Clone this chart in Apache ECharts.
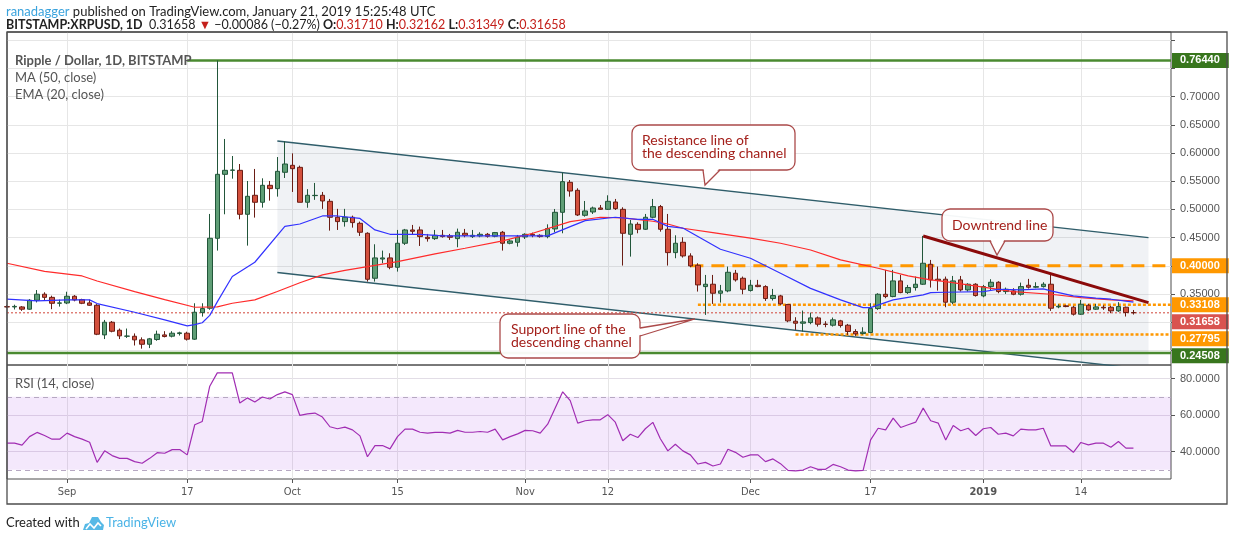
<!DOCTYPE html>
<html lang="en">
<head>
<meta charset="UTF-8">
<title>Ripple / Dollar, 1D, BITSTAMP</title>
<script src="https://cdn.jsdelivr.net/npm/echarts@6/dist/echarts.min.js"></script>
<style>
  html, body { margin: 0; padding: 0; background: #fff; }
  #chart { width: 1234px; height: 541px; }
</style>
</head>
<body>
<div id="chart"></div>
<script>
// daily candles, index 0 = 2018-08-24 ... index 150 = 2019-01-21
const opens = [0.3275,0.3270,0.3270,0.3230,0.3389,0.3496,0.3440,0.3335,0.3340,0.3460,
  0.3400,0.3342,0.3300,0.2774,0.2999,0.2857,0.2751,0.2750,0.2686,0.2608,
  0.2692,0.2774,0.2751,0.2798,0.2804,0.2698,0.3170,0.3247,0.4488,0.5623,
  0.5694,0.5694,0.4914,0.5251,0.5127,0.5428,0.5369,0.5659,0.5783,0.5747,
  0.5127,0.5245,0.5251,0.5144,0.4861,0.4784,0.4861,0.4754,0.4577,0.3779,
  0.4120,0.4140,0.3974,0.4400,0.4636,0.4636,0.4506,0.4482,0.4541,0.4530,
  0.4482,0.4577,0.4518,0.4530,0.4559,0.4524,0.4595,0.4400,0.4417,0.4512,
  0.4559,0.4541,0.4518,0.4654,0.4949,0.5481,0.5339,0.4896,0.4955,0.5026,
  0.5002,0.5132,0.5002,0.4559,0.4736,0.4648,0.4861,0.5050,0.4648,0.4234,
  0.4417,0.4175,0.4010,0.3631,0.3673,0.3513,0.3555,0.3868,0.3779,0.3561,
  0.3655,0.3631,0.3419,0.3466,0.3312,0.3017,0.2981,0.2993,0.3076,0.2966,
  0.2946,0.3023,0.2946,0.2834,0.2798,0.2816,0.3241,0.3495,0.3454,0.3732,
  0.3525,0.3614,0.3673,0.4027,0.3762,0.3762,0.3354,0.3750,0.3572,0.3673,
  0.3466,0.3631,0.3708,0.3543,0.3555,0.3495,0.3655,0.3620,0.3631,0.3673,
  0.3271,0.3289,0.3265,0.3141,0.3300,0.3230,0.3265,0.3265,0.3200,0.3265,
  0.31710];
const highs = [0.3300,0.3310,0.3285,0.3410,0.3570,0.3530,0.3470,0.3400,0.3540,0.3480,
  0.3415,0.3400,0.3320,0.3040,0.3020,0.2887,0.2887,0.2800,0.2730,0.2720,
  0.2850,0.2840,0.2840,0.2830,0.2830,0.3335,0.3335,0.4920,0.7644,0.6250,
  0.5948,0.5806,0.5505,0.5718,0.5552,0.5505,0.5930,0.6208,0.5995,0.5777,
  0.5360,0.5470,0.5310,0.5186,0.5010,0.5010,0.4890,0.4784,0.4595,0.4382,
  0.4270,0.4222,0.4636,0.4654,0.4725,0.4695,0.4565,0.4636,0.4636,0.4565,
  0.4660,0.4654,0.4636,0.4595,0.4583,0.4600,0.4618,0.4470,0.4547,0.4577,
  0.4589,0.4559,0.4736,0.5008,0.5652,0.5522,0.5375,0.5150,0.5050,0.5079,
  0.5251,0.5186,0.5038,0.4813,0.4772,0.4920,0.5186,0.5079,0.4920,0.4541,
  0.4506,0.4222,0.4045,0.3838,0.3838,0.3661,0.3986,0.3927,0.3809,0.3750,
  0.3750,0.3655,0.3590,0.3484,0.3324,0.3088,0.3206,0.3170,0.3100,0.3017,
  0.3082,0.3041,0.2969,0.2875,0.2910,0.3336,0.3513,0.3927,0.3927,0.3838,
  0.3661,0.3809,0.4530,0.4104,0.3986,0.3809,0.3820,0.3820,0.3691,0.3691,
  0.3661,0.3762,0.3726,0.3614,0.3602,0.3702,0.3768,0.3708,0.3708,0.3838,
  0.3318,0.3306,0.3289,0.3395,0.3324,0.3324,0.3300,0.3289,0.3354,0.3277,
  0.32162];
const lows = [0.3250,0.3225,0.3200,0.3220,0.3350,0.3390,0.3230,0.3276,0.3320,0.3370,
  0.3320,0.3290,0.2770,0.2700,0.2820,0.2700,0.2720,0.2586,0.2530,0.2540,
  0.2670,0.2730,0.2730,0.2763,0.2674,0.2686,0.3099,0.3220,0.4270,0.4914,
  0.5546,0.4825,0.4358,0.4855,0.5032,0.5156,0.5227,0.5558,0.5310,0.5127,
  0.5030,0.5170,0.5010,0.4624,0.4636,0.4695,0.4677,0.4530,0.3720,0.3720,
  0.4045,0.3939,0.3897,0.4370,0.4547,0.4352,0.4429,0.4459,0.4500,0.4459,
  0.4329,0.4506,0.4494,0.4506,0.4500,0.4506,0.4270,0.4382,0.4340,0.4476,
  0.4506,0.4500,0.4488,0.4595,0.4577,0.5227,0.4884,0.4872,0.4920,0.4990,
  0.4990,0.4990,0.4004,0.4163,0.4577,0.4636,0.4843,0.4606,0.4004,0.4134,
  0.4146,0.3974,0.3543,0.3129,0.3324,0.3348,0.3531,0.3720,0.3495,0.3543,
  0.3620,0.3377,0.3383,0.3306,0.2999,0.2863,0.2834,0.2963,0.2922,0.2910,
  0.2922,0.2904,0.2774,0.2757,0.2780,0.2804,0.3218,0.3425,0.3442,0.3513,
  0.3501,0.3560,0.3661,0.3614,0.3560,0.3265,0.3318,0.3543,0.3543,0.3454,
  0.3442,0.3572,0.3513,0.3501,0.3478,0.3472,0.3596,0.3602,0.3614,0.3200,
  0.3247,0.3265,0.3117,0.3129,0.3200,0.3218,0.3218,0.3159,0.3182,0.3100,
  0.31349];
const closes = [0.3270,0.3280,0.3230,0.3389,0.3496,0.3440,0.3335,0.3342,0.3460,0.3394,
  0.3335,0.3300,0.2786,0.2999,0.2839,0.2757,0.2753,0.2686,0.2608,0.2704,
  0.2786,0.2745,0.2804,0.2810,0.2698,0.3176,0.3241,0.4488,0.5623,0.5694,
  0.5700,0.4914,0.5233,0.5127,0.5428,0.5369,0.5676,0.5806,0.5723,0.5127,
  0.5251,0.5250,0.5150,0.4861,0.4784,0.4861,0.4766,0.4595,0.3761,0.4140,
  0.4140,0.3974,0.4400,0.4636,0.4612,0.4518,0.4482,0.4541,0.4518,0.4506,
  0.4595,0.4541,0.4541,0.4559,0.4524,0.4589,0.4400,0.4441,0.4512,0.4559,
  0.4541,0.4518,0.4660,0.4949,0.5493,0.5327,0.4902,0.4973,0.5026,0.5002,
  0.5144,0.5014,0.4577,0.4742,0.4648,0.4861,0.5050,0.4648,0.4234,0.4400,
  0.4175,0.3998,0.3661,0.3673,0.3513,0.3555,0.3885,0.3750,0.3584,0.3655,
  0.3631,0.3419,0.3472,0.3324,0.3023,0.2981,0.3005,0.3076,0.2963,0.2960,
  0.3041,0.2940,0.2834,0.2792,0.2822,0.3241,0.3495,0.3454,0.3732,0.3525,
  0.3614,0.3673,0.4045,0.3750,0.3738,0.3354,0.3732,0.3572,0.3673,0.3472,
  0.3631,0.3708,0.3543,0.3584,0.3495,0.3631,0.3620,0.3631,0.3673,0.3247,
  0.3283,0.3277,0.3141,0.3318,0.3218,0.3271,0.3253,0.3200,0.3277,0.3171,
  0.31658];

// indicator readings as [dayIndex, value]
const ma50 = [[0,0.4045],[5,0.3900],[10,0.3820],[12,0.3730],[17,0.3543],[21,0.3400],[25,0.3265],
  [28,0.3270],[30,0.3336],[33,0.3395],[36,0.3543],[39,0.3700],[42,0.3840],[45,0.3920],[48,0.3986],
  [52,0.4075],[57,0.4211],[61,0.4311],[66,0.4441],[70,0.4577],[75,0.4784],[79,0.4861],[82,0.4850],
  [86,0.4790],[88,0.4742],[90,0.4666],[94,0.4589],[99,0.4490],[103,0.4400],[107,0.4280],[111,0.4104],
  [116,0.3956],[120,0.3821],[123,0.3750],[125,0.3720],[130,0.3620],[134,0.3543],[139,0.3495],
  [143,0.3436],[147,0.3395],[150,0.3377]];
const ema20 = [[0,0.3407],[4,0.3377],[8,0.3395],[11,0.3395],[12,0.3330],[17,0.3176],[21,0.3041],
  [24,0.2934],[25,0.2955],[26,0.2990],[27,0.3120],[28,0.3360],[30,0.3809],[33,0.4063],[37,0.4700],
  [39,0.4742],[42,0.4884],[44,0.4884],[47,0.4840],[49,0.4636],[51,0.4559],[55,0.4559],[58,0.4530],
  [72,0.4530],[75,0.4695],[77,0.4801],[81,0.4861],[84,0.4825],[86,0.4825],[88,0.4700],[90,0.4670],
  [92,0.4520],[95,0.4293],[99,0.4134],[103,0.3868],[107,0.3600],[111,0.3395],[114,0.3259],
  [115,0.3259],[118,0.3395],[122,0.3484],[123,0.3525],[125,0.3531],[130,0.3543],[132,0.3584],
  [135,0.3572],[138,0.3590],[139,0.3555],[142,0.3466],[145,0.3425],[147,0.3407],[150,0.3354]];
const rsi = [44.6,44.6,43.5,48.2,50.5,48.8,46.8,46.8,50.1,48.2,
  46.8,45.1,34.1,40.4,37.8,36.3,36.3,34.5,33.6,36.3,
  39.4,39.1,41.1,41.1,38.2,54.7,56.5,75.8,83.1,83.1,
  83.1,66.6,69.4,67.1,69.9,68.8,71.2,72.7,71.2,59.8,
  60.6,61.1,58.9,53.6,52.5,53.4,51.9,48.6,37.2,43.3,
  43.3,41.5,48.2,52.3,52.3,50.6,50.1,50.5,50.5,50.1,
  51.6,50.6,50.6,51.0,50.6,52.3,46.4,48.2,49.7,51.6,
  51.4,50.1,55.0,63.8,72.7,67.9,55.6,56.9,57.4,57.4,
  60.2,56.1,45.9,49.5,47.7,52.5,56.0,47.0,40.4,44.0,
  40.4,38.2,33.2,34.1,32.1,33.2,41.3,39.6,36.9,38.2,
  38.2,34.5,36.0,33.4,29.7,29.4,29.9,31.7,30.3,30.3,
  33.0,31.7,29.9,29.4,29.7,46.4,52.8,51.9,58.3,53.2,
  54.7,56.1,63.8,56.9,55.6,46.4,54.3,51.4,52.8,48.8,
  52.5,53.2,49.5,50.1,48.6,52.3,51.9,51.9,52.8,43.1,
  43.1,43.1,39.6,45.0,43.7,44.6,44.6,42.4,45.5,41.9,
  41.9];

// drawings
const channelUpper = [[36, 0.6214], [152, 0.4500]];
const channelLower = [[36, 0.3880], [152, 0.2157]];
const downtrend = [[122, 0.4529], [152, 0.3346]];
const levelValues = [0.7644, 0.40, 0.33108, 0.31658, 0.27795, 0.24508];
const levelTexts = ['0.76440', '0.40000', '0.33108', '0.31658', '0.27795', '0.24508'];
const levelStart = [24, 91, 92, 0, 105, 0];

// axis ticks
const tickDates = ['2018-09-01','2018-09-17','2018-10-01','2018-10-15','2018-11-01',
  '2018-11-12','2018-12-01','2018-12-17','2019-01-01','2019-01-14'];
const tickTexts = ['Sep','17','Oct','15','Nov','12','Dec','17','2019','14'];
const priceGrid = [0.25,0.30,0.35,0.40,0.45,0.50,0.55,0.60,0.65,0.70,0.75,0.80];
const priceTicks = [0.35,0.45,0.50,0.55,0.60,0.65,0.70];
const rsiTicks = [40, 60, 80];

const nDays = 156;
const dates = [];
for (let i = 0; i < nDays; i++) {
  dates.push(new Date(Date.UTC(2018, 7, 24 + i)).toISOString().slice(0, 10));
}
const lastIdx = nDays - 1;

const PMIN = 0.2240, PMAX = 0.8148;
const RMIN = 25, RMAX = 87.4;
const mainH = 333;

const levelStyle = [
  { color: '#4a8a30', bg: '#38761d', width: 2.5, type: 'solid' },
  { color: '#ff9800', bg: '#ff9800', width: 3, type: [13, 8] },
  { color: '#ff9800', bg: '#ff9800', width: 2.5, type: [3, 2] },
  { color: '#d0453a', bg: '#d9534f', width: 1, type: [2, 2] },
  { color: '#ff9800', bg: '#ff9800', width: 2.5, type: [3, 2] },
  { color: '#4a8a30', bg: '#38761d', width: 2.5, type: 'solid' }
];

// push price labels apart so boxes don't overlap (like the price scale does)
const gap = 17 * (PMAX - PMIN) / mainH;
const labelPos = [];
levelValues.forEach((v, i) => {
  labelPos.push(i === 0 ? v : Math.min(v, labelPos[i - 1] - gap));
});
const labelRich = {};
levelStyle.forEach((s, i) => {
  labelRich['s' + i] = { backgroundColor: s.bg, color: '#fff', fontWeight: 'bold',
    fontSize: 11, lineHeight: 12, padding: [2, 9, 2, 8], fontFamily: 'Liberation Sans, Arial' };
});

const isTick = (i, v) => tickDates.indexOf(v) >= 0;
const gridColor = '#e6e6e6';

const levelSeries = levelValues.map((v, i) => ({
  type: 'line', xAxisIndex: 0, yAxisIndex: 0, symbol: 'none', silent: true, z: 4,
  data: [[levelStart[i], v], [lastIdx, v]],
  lineStyle: { color: levelStyle[i].color, width: levelStyle[i].width, type: levelStyle[i].type }
}));

const chart = echarts.init(document.getElementById('chart'));

function callout(rect, tail, text, tx, ty) {
  return [
    { type: 'rect', z: 100, shape: { x: rect[0], y: rect[1], width: rect[2], height: rect[3], r: 8 },
      style: { fill: 'rgba(255,255,255,0.95)', stroke: '#ab4a4a', lineWidth: 1.3 } },
    { type: 'polygon', z: 101, shape: { points: tail.fill }, style: { fill: '#fff' } },
    { type: 'polyline', z: 102, shape: { points: tail.edge },
      style: { stroke: '#ab4a4a', lineWidth: 1.3, fill: null } },
    { type: 'text', z: 103, x: tx, y: ty,
      style: { text: text, fill: '#a31f1a', font: '14px Lato', lineHeight: 13, verticalAlign: 'middle' } }
  ];
}

chart.setOption({
  animation: false,
  textStyle: { fontFamily: 'Liberation Sans, Arial, sans-serif' },
  grid: [
    { left: 7, right: 63, top: 32, height: mainH, show: true, borderColor: '#4d4d4d', borderWidth: 1 },
    { left: 7, right: 63, top: 365, height: 114, show: true, borderColor: '#4d4d4d', borderWidth: 1 }
  ],
  xAxis: [
    { type: 'category', gridIndex: 0, data: dates, boundaryGap: false,
      axisLine: { show: false }, axisTick: { show: false }, axisLabel: { show: false },
      splitLine: { show: true, interval: isTick, lineStyle: { color: gridColor } } },
    { type: 'category', gridIndex: 1, data: dates, boundaryGap: false,
      axisLine: { show: false },
      axisTick: { show: true, interval: isTick, length: 4, lineStyle: { color: '#555' } },
      axisLabel: { interval: isTick, margin: 8, color: '#555', fontSize: 11,
        fontFamily: 'Liberation Sans Narrow, DejaVu Sans Condensed, sans-serif',
        formatter: v => {
          const t = tickTexts[tickDates.indexOf(v)];
          return t === '2019' ? '{y|' + t + '}' : t;
        },
        rich: { y: { fontWeight: 'bold', color: '#555', fontSize: 11,
          fontFamily: 'Liberation Sans Narrow, DejaVu Sans Condensed, sans-serif' } } },
      splitLine: { show: true, interval: isTick, lineStyle: { color: gridColor } } }
  ],
  yAxis: [
    { type: 'value', gridIndex: 0, position: 'right', min: PMIN, max: PMAX,
      axisLine: { show: false },
      axisTick: { show: true, length: 4, customValues: priceGrid, lineStyle: { color: '#555' } },
      axisLabel: { customValues: priceTicks, formatter: v => v.toFixed(5), color: '#555',
        fontSize: 11, margin: 9 },
      splitLine: { show: true, lineStyle: { color: gridColor } } },
    { type: 'value', gridIndex: 0, position: 'right', min: PMIN, max: PMAX,
      axisLine: { show: false }, axisTick: { show: false }, splitLine: { show: false },
      axisLabel: { customValues: labelPos.slice().sort((a, b) => a - b), margin: 1,
        formatter: v => {
          let best = 0;
          labelPos.forEach((p, i) => { if (Math.abs(p - v) < Math.abs(labelPos[best] - v)) best = i; });
          return '{s' + best + '|' + levelTexts[best] + '}';
        },
        rich: labelRich } },
    { type: 'value', gridIndex: 1, position: 'right', min: RMIN, max: RMAX,
      axisLine: { show: false },
      axisTick: { show: true, length: 4, customValues: rsiTicks, lineStyle: { color: '#555' } },
      axisLabel: { customValues: rsiTicks, formatter: v => v.toFixed(4), color: '#555',
        fontSize: 11, margin: 9 },
      splitLine: { show: true, lineStyle: { color: '#e2dde6' } } }
  ],
  series: [
    { type: 'custom', xAxisIndex: 0, yAxisIndex: 0, clip: true, z: 1, silent: true,
      data: [[channelUpper[0][0], channelUpper[0][1], channelLower[0][1],
              channelUpper[1][0], channelUpper[1][1], channelLower[1][1]]],
      renderItem: (params, api) => {
        const a = api.coord([api.value(0), api.value(1)]);
        const b = api.coord([api.value(3), api.value(4)]);
        const c = api.coord([api.value(3), api.value(5)]);
        const d = api.coord([api.value(0), api.value(2)]);
        return { type: 'polygon', shape: { points: [a, b, c, d] },
          style: { fill: 'rgba(70,90,130,0.08)' } };
      } },
    { type: 'line', xAxisIndex: 0, yAxisIndex: 0, symbol: 'none', z: 3, silent: true,
      data: channelUpper, lineStyle: { color: '#2f5d6a', width: 1.4 } },
    { type: 'line', xAxisIndex: 0, yAxisIndex: 0, symbol: 'none', z: 3, silent: true,
      data: channelLower, lineStyle: { color: '#2f5d6a', width: 1.4 } },
    ...levelSeries,
    { type: 'candlestick', xAxisIndex: 0, yAxisIndex: 0, z: 5, barWidth: 5,
      data: opens.map((o, i) => [o, closes[i], lows[i], highs[i]]),
      itemStyle: { color: '#5f9e76', color0: '#d3503d', borderColor: '#22563a',
        borderColor0: '#6a1d14', borderWidth: 1 } },
    { type: 'line', xAxisIndex: 0, yAxisIndex: 0, symbol: 'none', z: 6, silent: true,
      data: ma50, lineStyle: { color: '#ff2b2b', width: 1.2 } },
    { type: 'line', xAxisIndex: 0, yAxisIndex: 0, symbol: 'none', z: 6, silent: true,
      data: ema20, lineStyle: { color: '#3232ff', width: 1.2 } },
    { type: 'line', xAxisIndex: 0, yAxisIndex: 0, symbol: 'none', z: 7, silent: true,
      data: downtrend, lineStyle: { color: '#8b0a0a', width: 3 } },
    { type: 'line', xAxisIndex: 1, yAxisIndex: 2, symbol: 'none', z: 5, silent: true,
      data: rsi, lineStyle: { color: '#a12db3', width: 1.2 },
      markArea: { silent: true, itemStyle: { color: 'rgba(150,30,230,0.10)' },
        data: [[{ yAxis: 30 }, { yAxis: 70 }]] },
      markLine: { silent: true, symbol: 'none', label: { show: false },
        lineStyle: { color: '#b6a8c2', type: [5, 4], width: 1 },
        data: [{ yAxis: 70 }, { yAxis: 30 }] } }
  ],
  graphic: [
    { type: 'rect', z: 90, shape: { x: 7, y: 32, width: 1220, height: 472 },
      style: { fill: null, stroke: '#4d4d4d', lineWidth: 1.3 } },
    { type: 'text', z: 100, x: 6, y: 12,
      style: { text: '{u|ranadagger} published on TradingView.com, January 21, 2019 15:25:48 UTC',
        font: '13px Lato', fill: '#222', verticalAlign: 'middle',
        rich: { u: { fill: '#3aa3dd', font: '13px Lato' } } } },
    { type: 'text', z: 100, x: 6, y: 25,
      style: { text: '{b|BITSTAMP:XRPUSD, 1D}  0.31658 {r|\u25BC} \u22120.00086 (\u22120.27%) {b|O:}{r|0.31710} {b|H:}{r|0.32162} {b|L:}{r|0.31349} {b|C:}{r|0.31658}',
        font: '12.5px Lato', fill: '#222', verticalAlign: 'middle',
        rich: { b: { font: 'bold 12.5px Lato', fill: '#222' }, r: { font: '12.5px Lato', fill: '#c4201b' } } } },
    { type: 'text', z: 100, x: 15, y: 61,
      style: { text: 'Ripple / Dollar, 1D, BITSTAMP', font: 'bold 13px Lato', fill: '#555', verticalAlign: 'middle' } },
    { type: 'text', z: 100, x: 15, y: 78,
      style: { text: 'MA (50, close)', font: '13px Lato', fill: '#555', verticalAlign: 'middle' } },
    { type: 'text', z: 100, x: 15, y: 95,
      style: { text: 'EMA (20, close)', font: '13px Lato', fill: '#555', verticalAlign: 'middle' } },
    { type: 'text', z: 100, x: 15, y: 384,
      style: { text: 'RSI (14, close)', font: '13px Lato', fill: '#555', verticalAlign: 'middle' } },
    ...callout([632, 125, 163, 45],
      { fill: [[703.6, 168.6], [705, 185], [719.4, 168.6]], edge: [[703, 170], [705, 185], [720, 170]] },
      'Resistance line of\nthe descending channel', 642, 147),
    ...callout([500, 314, 140, 44],
      { fill: [[638.6, 328.6], [695, 319], [638.6, 335.4]], edge: [[640, 328], [695, 319], [640, 336]] },
      'Support line of the\ndescending channel', 511, 336),
    ...callout([942, 209, 111, 32],
      { fill: [[990.6, 239.6], [997, 255], [1004.4, 239.6]], edge: [[990, 241], [997, 255], [1005, 241]] },
      'Downtrend line', 952, 225),
    { type: 'text', z: 100, x: 6, y: 523,
      style: { text: 'Created with', font: '13px Lato', fill: '#222', verticalAlign: 'middle' } },
    { type: 'polygon', z: 100,
      shape: { points: [[83, 530], [85, 524], [89, 523], [92, 517], [98, 517], [101, 522], [104, 525], [103, 530]] },
      style: { fill: '#56b9e6' } },
    { type: 'polyline', z: 101,
      shape: { points: [[86, 529], [90, 524], [94, 528], [98, 523], [101, 526]] },
      style: { stroke: '#fff', lineWidth: 1.6, fill: null } },
    { type: 'text', z: 100, x: 106, y: 523,
      style: { text: 'TradingView', font: '13px Lato', fill: '#4ab3e6', verticalAlign: 'middle' } }
  ]
});
</script>
</body>
</html>
